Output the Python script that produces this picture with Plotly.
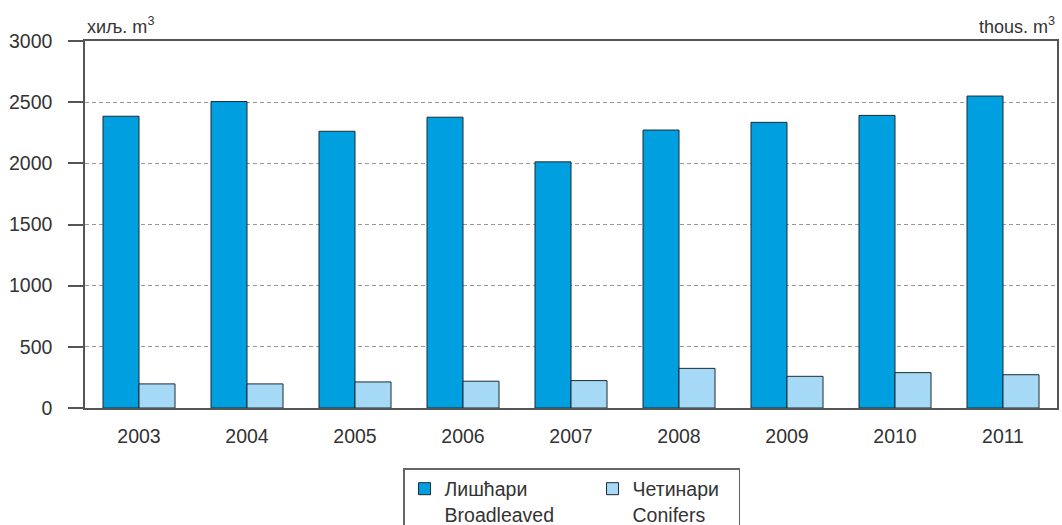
import plotly.graph_objects as go

years = ["2003", "2004", "2005", "2006", "2007", "2008", "2009", "2010", "2011"]
broadleaved = [2385, 2505, 2262, 2377, 2012, 2272, 2335, 2392, 2550]
conifers = [197, 197, 213, 219, 224, 324, 259, 289, 272]
name_broad = "Лишћари<br>Broadleaved"
name_conif = "Четинари<br>Conifers"
y_ticks = [0, 500, 1000, 1500, 2000, 2500, 3000]

FONT = "Liberation Sans, Arial, Helvetica, sans-serif"
TXT = "#333333"
LINE = "#555555"

fig = go.Figure()
fig.add_trace(go.Bar(x=years, y=broadleaved, name=name_broad, legendwidth=143,
                     marker=dict(color="#009FE0", line=dict(color="#1b2a33", width=1))))
fig.add_trace(go.Bar(x=years, y=conifers, name=name_conif, legendwidth=101,
                     marker=dict(color="#A6D9F5", line=dict(color="#1b2a33", width=1))))

fig.update_layout(
    width=1062, height=525,
    margin=dict(l=85, r=5, t=41, b=117, autoexpand=False),
    paper_bgcolor="white", plot_bgcolor="white",
    barmode="group", bargap=1/3, bargroupgap=0,
    font=dict(family=FONT, size=19.5, color=TXT),
    showlegend=True,
    legend=dict(orientation="h", x=0.3272, xanchor="left", y=-0.1635, yanchor="top",
                bgcolor="white", bordercolor="#666666", borderwidth=1.5,
                font=dict(family=FONT, size=19.5, color=TXT),
                entrywidthmode="pixels", valign="top",
                traceorder="normal"),
)
fig.update_xaxes(showline=True, linecolor=LINE, linewidth=1.5, mirror=True,
                 ticks="", showgrid=False, ticklabelstandoff=10,
                 tickfont=dict(family=FONT, size=19.5, color=TXT))
fig.update_yaxes(range=[0, 3000], tickvals=y_ticks, showline=True, linecolor=LINE,
                 linewidth=1.5, mirror=True, ticks="outside", ticklen=15, tickwidth=1.5,
                 tickcolor=LINE, showgrid=True, gridcolor="#9a9a9a", gridwidth=1,
                 griddash="4px,3px", zeroline=False, ticklabelstandoff=12,
                 tickfont=dict(family=FONT, size=19.5, color=TXT))

fig.add_annotation(text="хиљ. m<sup>3</sup>", xref="paper", yref="paper", x=0, y=1,
                   xanchor="left", yanchor="bottom", showarrow=False, yshift=2,
                   font=dict(family=FONT, size=18, color=TXT))
fig.add_annotation(text="thous. m<sup>3</sup>", xref="paper", yref="paper", x=1, y=1,
                   xanchor="right", yanchor="bottom", showarrow=False, yshift=2,
                   font=dict(family=FONT, size=18, color=TXT))

fig.write_html("out.html", config={"displayModeBar": False},
               post_script="document.body.style.margin='0';document.body.style.overflow='hidden';")
